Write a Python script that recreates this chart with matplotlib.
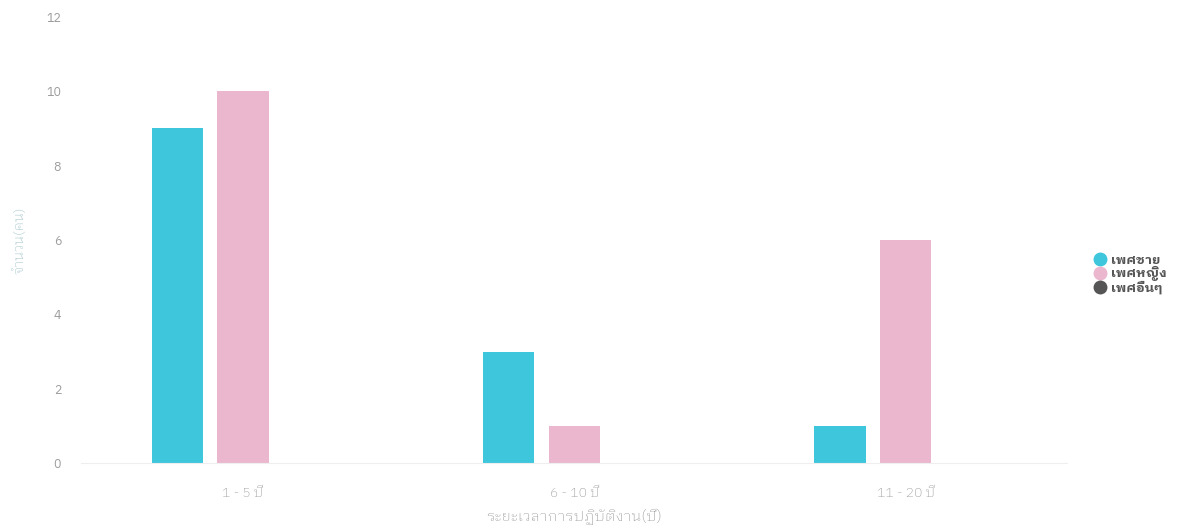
import matplotlib
matplotlib.use('Agg')
import matplotlib.pyplot as plt
import numpy as np
from matplotlib.lines import Line2D

categories = ['1 - 5 ปี', '6 - 10 ปี', '11 - 20 ปี']
male = [9, 3, 1]
female = [10, 1, 6]
other = [0, 0, 0]
series_names = ['เพศชาย', 'เพศหญิง', 'เพศอื่นๆ']
colors = ['#3ec6dc', '#ebb7cf', '#555555']

plt.rcParams['font.family'] = ['IBM Plex Sans Thai Looped', 'Noto Sans Thai Looped', 'DejaVu Sans']

fig = plt.figure(figsize=(12.03, 5.27), dpi=100)
ax = fig.add_axes([0.067, 0.121, 0.82, 0.847])

x = np.arange(len(categories))
step = 0.199
width = 0.154
for i, vals in enumerate([male, female, other]):
    ax.bar(x + (i - 1) * step, vals, width, color=colors[i])

ax.set_xlim(-0.49, 2.486)
ax.set_ylim(0, 12)
ax.set_yticks(range(0, 13, 2))
ax.set_xticks(x)
ax.set_xticklabels(categories, fontsize=10, fontweight='light')
ax.tick_params(length=0, labelcolor='#9c9c9c')
ax.tick_params(axis='x', pad=17)
ax.tick_params(axis='y', pad=14, labelsize=9)
for s in ['top', 'right', 'left']:
    ax.spines[s].set_visible(False)
ax.spines['bottom'].set_color('#eeeeee')

ax.set_xlabel('ระยะเวลาการปฏิบัติงาน(ปี)', fontsize=11, fontweight='light',
              color='#999999', labelpad=6)
ax.set_ylabel('จำนวน(คน)', fontsize=10, fontweight='light', color='#9cbfc4')
ax.yaxis.set_label_coords(-0.055, 0.5)

handles = [Line2D([], [], marker='o', linestyle='', markersize=9,
                  markerfacecolor=c, markeredgecolor=c) for c in colors]
leg = fig.legend(handles, series_names, loc='center left', bbox_to_anchor=(0.899, 0.48),
                 frameon=False, handletextpad=0.3, labelspacing=-0.02, handlelength=1.0,
                 prop={'size': 9.5, 'weight': 'bold'})
for t in leg.get_texts():
    t.set_color('#555555')

fig.savefig('out.png')
